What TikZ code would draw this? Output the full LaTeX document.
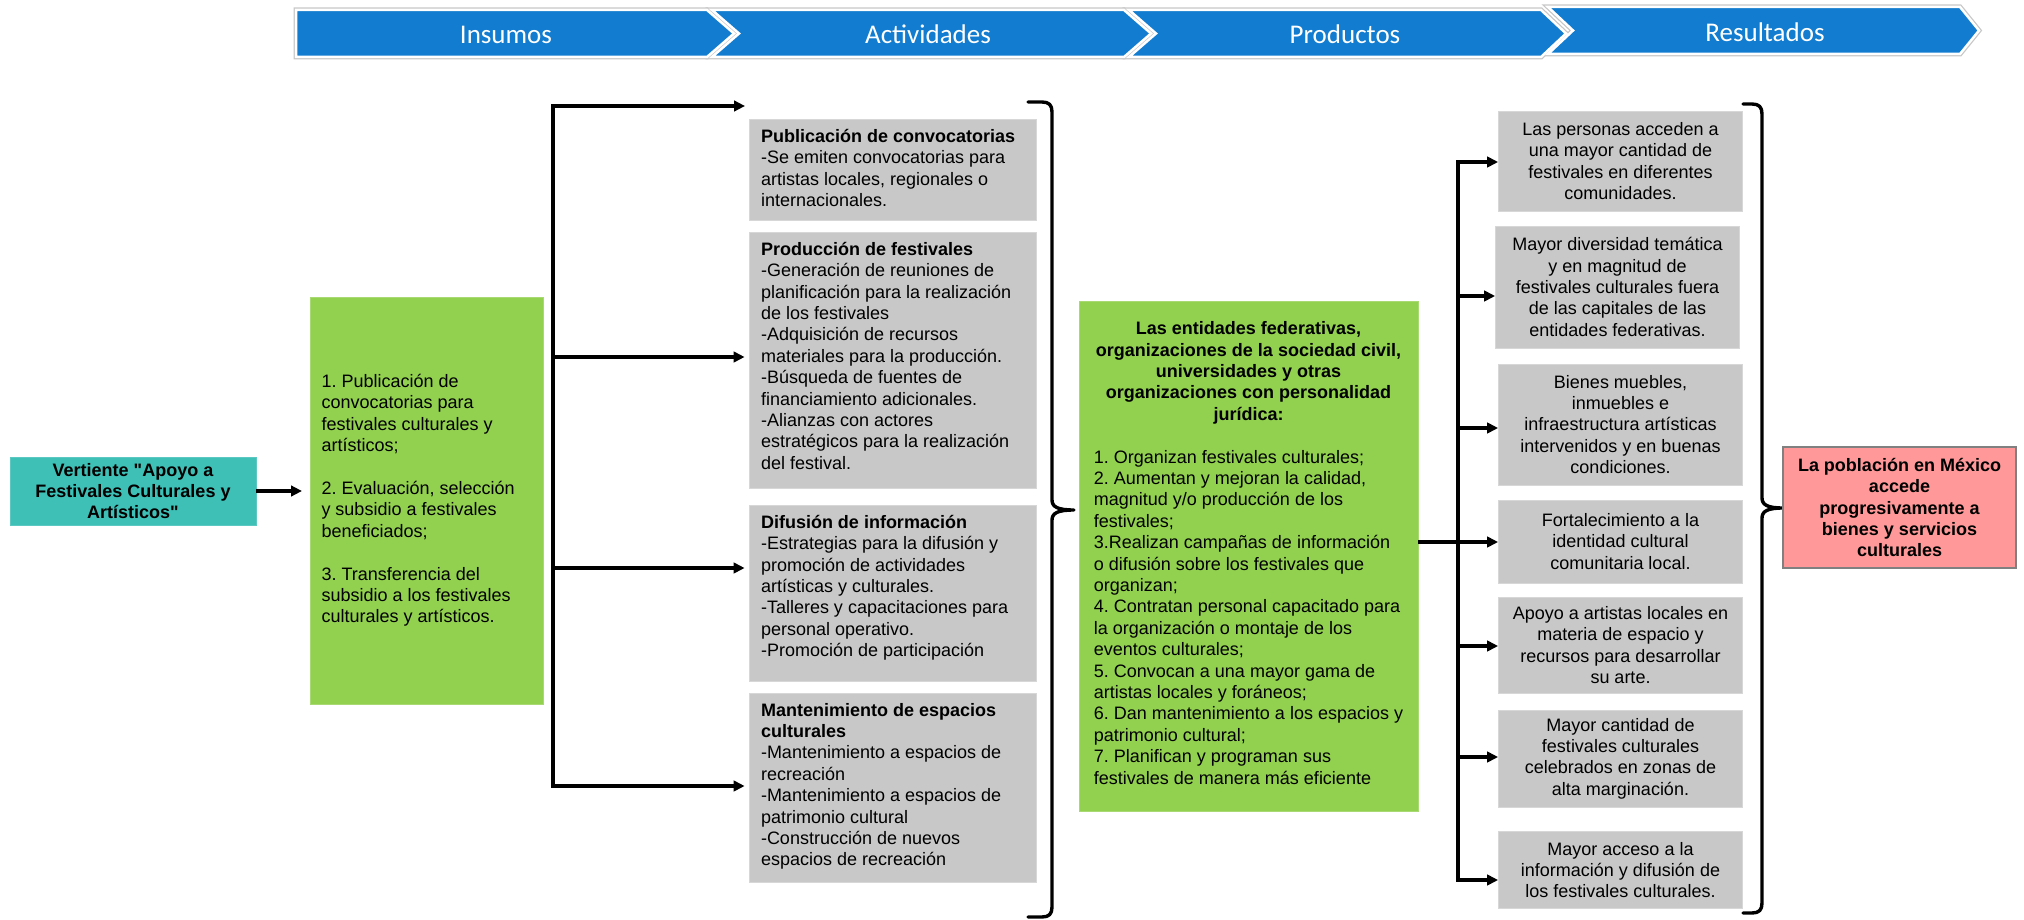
\documentclass[tikz,border=0pt]{standalone}
\usepackage{fontspec}
\setmainfont{Liberation Sans}
\newfontfamily\chevfont{Carlito}
\newfontfamily\nomapfont[Ligatures=TeXOff]{Liberation Sans}
\usetikzlibrary{arrows.meta,calc}
\definecolor{chevblue}{RGB}{17,124,208}
\definecolor{tealbox}{RGB}{62,192,182}
\definecolor{greenbox}{RGB}{146,208,80}
\definecolor{greybox}{RGB}{200,200,200}
\definecolor{greyedge}{RGB}{215,215,215}
\definecolor{redbox}{RGB}{255,153,153}
\definecolor{rededge}{RGB}{128,128,128}
\frenchspacing
\begin{document}
\frenchspacing
\begin{tikzpicture}[x=1pt,y=-1pt,
  txt/.style={font=\fontsize{18}{21.4}\selectfont},
  chevshadow/.style={draw=black!22, line width=5pt, line join=miter},
  chevfill/.style={fill=chevblue, draw=white, line width=2.5pt, line join=miter},
  chevtext/.style={text=white, font=\chevfont\fontsize{27}{31}\selectfont},
  conn/.style={draw=black, line width=3.2pt},
  tip/.tip={Triangle[length=11pt,width=10.5pt]},
  arr/.style={conn, -tip},
  bracestyle/.style={draw=black, line width=3.4pt, line join=round, line cap=round},
  tealstyle/.style={fill=tealbox, draw=tealbox!85!white, line width=0.8pt, inner sep=0pt, align=center, font=\nomapfont\fontsize{18}{21.4}\selectfont\bfseries},
  greenstyle/.style={txt, fill=greenbox, draw=greenbox!80!white, line width=0.8pt, inner sep=0pt},
  actbox/.style={txt, fill=greybox, draw=greyedge, line width=0.8pt, inner sep=0pt, minimum width=287pt},
  resbox/.style={txt, fill=greybox, draw=greyedge, line width=0.8pt, inner sep=0pt, align=center, minimum width=244pt},
  redstyle/.style={fill=redbox, draw=rededge, line width=1.6pt, inner sep=0pt, align=center, font=\fontsize{18}{21.4}\selectfont\bfseries}
]
\useasboundingbox (0,0) rectangle (2024,920);

% ---- header chevrons ----
\draw[chevshadow] (296,10) -- (707,10) -- (734,33.5) -- (707,57) -- (296,57) -- cycle;
\draw[chevshadow] (712,10) -- (1124,10) -- (1151,33.5) -- (1124,57) -- (712,57) -- (739,33.5) -- cycle;
\draw[chevshadow] (1129,10) -- (1541,10) -- (1566,33.5) -- (1541,57) -- (1129,57) -- (1156,33.5) -- cycle;
\draw[chevshadow] (1548,7) -- (1960,7) -- (1979,30.5) -- (1960,54) -- (1548,54) -- (1573,30.5) -- cycle;
\draw[chevfill] (296,10) -- (707,10) -- (734,33.5) -- (707,57) -- (296,57) -- cycle;
\draw[chevfill] (712,10) -- (1124,10) -- (1151,33.5) -- (1124,57) -- (712,57) -- (739,33.5) -- cycle;
\draw[chevfill] (1129,10) -- (1541,10) -- (1566,33.5) -- (1541,57) -- (1129,57) -- (1156,33.5) -- cycle;
\draw[chevfill] (1548,7) -- (1960,7) -- (1979,30.5) -- (1960,54) -- (1548,54) -- (1573,30.5) -- cycle;
\node[chevtext] (hins) at (506,35) {Insumos};
\node[chevtext] (hact) at (928,34) {Actividades};
\node[chevtext] (hpro) at (1345,34) {Productos};
\node[chevtext] (hres) at (1765,32) {Resultados};

% ---- left column ----
\node[tealstyle, minimum width=246pt, minimum height=68pt] (vert) at (133,491)
  {Vertiente "Apoyo a\\Festivales Culturales y\\Artísticos"};

\node[greenstyle, minimum width=233pt, minimum height=407pt] (ins) at (426.5,500.5)
  {\parbox{210pt}{\raggedright
  1. Publicación de\\convocatorias para\\festivales culturales y\\artísticos;\\[21.4pt]
  2. Evaluación, selección\\y subsidio a festivales\\beneficiados;\\[21.4pt]
  3. Transferencia del\\subsidio a los festivales\\culturales y artísticos.}};

\coordinate (insin) at (302,491);
\draw[arr] (vert.east) -- (insin);

% ---- activities ----
\node[actbox, minimum height=101pt] (a1) at (892.5,169.5)
  {\parbox[c][81pt][t]{263pt}{\raggedright
  \textbf{Publicación de convocatorias}\\
  -Se emiten convocatorias para\\artistas locales, regionales o\\internacionales.}};
\node[actbox, minimum height=256pt] (a2) at (892.5,360)
  {\parbox[c][236pt][t]{263pt}{\raggedright
  \textbf{Producción de festivales}\\
  -Generación de reuniones de\\planificación para la realización\\de los festivales\\
  -Adquisición de recursos\\materiales para la producción.\\
  -Búsqueda de fuentes de\\financiamiento adicionales.\\
  -Alianzas con actores\\estratégicos para la realización\\del festival.}};
\node[actbox, minimum height=176pt] (a3) at (892.5,593)
  {\parbox[c][156pt][t]{263pt}{\raggedright
  \textbf{Difusión de información}\\
  -Estrategias para la difusión y\\promoción de actividades\\artísticas y culturales.\\
  -Talleres y capacitaciones para\\personal operativo.\\
  -Promoción de participación}};
\node[actbox, minimum height=189pt] (a4) at (892.5,787.5)
  {\parbox[c][169pt][t]{263pt}{\raggedright
  \textbf{Mantenimiento de espacios}\\\textbf{culturales}\\
  -Mantenimiento a espacios de\\recreación\\
  -Mantenimiento a espacios de\\patrimonio cultural\\
  -Construcción de nuevos\\espacios de recreación}};

% tree from inputs to activities
\coordinate (k1) at (553,106);
\coordinate (k2) at (553,357);
\coordinate (k3) at (553,568);
\coordinate (k4) at (553,786);
\coordinate (e1) at (745,106);
\draw[conn, tip-tip] (e1) -- (k1) -- (k4) -- ([xshift=-4pt]k4 -| a4.west);
\draw[arr, shorten >=4pt] (k2) -- (k2 -| a2.west);
\draw[arr, shorten >=4pt] (k3) -- (k3 -| a3.west);

% brace after activities
\draw[bracestyle] (1028,102) -- (1042,102) .. controls (1049,102) and (1052,105) .. (1052,112)
  -- (1052,500) .. controls (1052,507) and (1058,510) .. (1074,510)
  .. controls (1058,510) and (1052,513) .. (1052,520)
  -- (1052,907) .. controls (1052,914) and (1049,917) .. (1042,917) -- (1028,917);

% ---- products ----
\node[greenstyle, minimum width=339pt, minimum height=510pt] (prod) at (1248.5,556)
  {\parbox{318pt}{\centering\bfseries
  Las entidades federativas,\\organizaciones de la sociedad civil,\\universidades y otras\\organizaciones con personalidad\\jurídica:\\[21.4pt]
  \mdseries\begin{tabular}[t]{@{}l@{}}
  1. Organizan festivales culturales;\\
  2. Aumentan y mejoran la calidad,\\magnitud y/o producción de los\\festivales;\\
  3.Realizan campañas de información\\o difusión sobre los festivales que\\organizan;\\
  4. Contratan personal capacitado para\\la organización o montaje de los\\eventos culturales;\\
  5. Convocan a una mayor gama de\\artistas locales y foráneos;\\
  6. Dan mantenimiento a los espacios y\\patrimonio cultural;\\
  7. Planifican y programan sus\\festivales de manera más eficiente
  \end{tabular}}};

% ---- results ----
\node[resbox, minimum height=100pt] (r1) at (1620.5,161)
  {Las personas acceden a\\una mayor cantidad de\\festivales en diferentes\\comunidades.};
\node[resbox, minimum height=122pt] (r2) at (1617.5,287)
  {Mayor diversidad temática\\y en magnitud de\\festivales culturales fuera\\de las capitales de las\\entidades federativas.};
\node[resbox, minimum height=121pt] (r3) at (1620.5,424.5)
  {Bienes muebles,\\inmuebles e\\infraestructura artísticas\\intervenidos y en buenas\\condiciones.};
\node[resbox, minimum height=83pt] (r4) at (1620.5,541.5)
  {Fortalecimiento a la\\identidad cultural\\comunitaria local.};
\node[resbox, minimum height=96pt] (r5) at (1620.5,645)
  {Apoyo a artistas locales en\\materia de espacio y\\recursos para desarrollar\\su arte.};
\node[resbox, minimum height=97pt] (r6) at (1620.5,758.5)
  {Mayor cantidad de\\festivales culturales\\celebrados en zonas de\\alta marginación.};
\node[resbox, minimum height=77pt] (r7) at (1620.5,870)
  {Mayor acceso a la\\información y difusión de\\los festivales culturales.};

% tree from products to results
\coordinate (j1) at (1458,162);
\coordinate (j2) at (1458,296);
\coordinate (j3) at (1458,428);
\coordinate (j4) at (1458,542);
\coordinate (j5) at (1458,646);
\coordinate (j6) at (1458,757);
\coordinate (j7) at (1458,880);
\draw[conn, tip-tip] (j1 -| r1.west) -- (j1) -- (j7) -- (j7 -| r7.west);
\draw[arr] (j2) -- (j2 -| r2.west);
\draw[arr] (j3) -- (j3 -| r3.west);
\draw[arr] (prod.east |- j4) -- (j4 -| r4.west);
\draw[arr] (j5) -- (j5 -| r5.west);
\draw[arr] (j6) -- (j6 -| r6.west);

% brace after results
\draw[bracestyle] (1743,104) -- (1752,104) .. controls (1759,104) and (1762,107) .. (1762,114)
  -- (1762,498) .. controls (1762,505) and (1768,508) .. (1783,508)
  .. controls (1768,508) and (1762,511) .. (1762,518)
  -- (1762,903) .. controls (1762,910) and (1759,913) .. (1752,913) -- (1743,913);

% ---- final result ----
\node[redstyle, minimum width=233pt, minimum height=121pt] (fin) at (1899.5,507.5)
  {La población en México\\accede\\progresivamente a\\bienes y servicios\\culturales};
\end{tikzpicture}
\end{document}
